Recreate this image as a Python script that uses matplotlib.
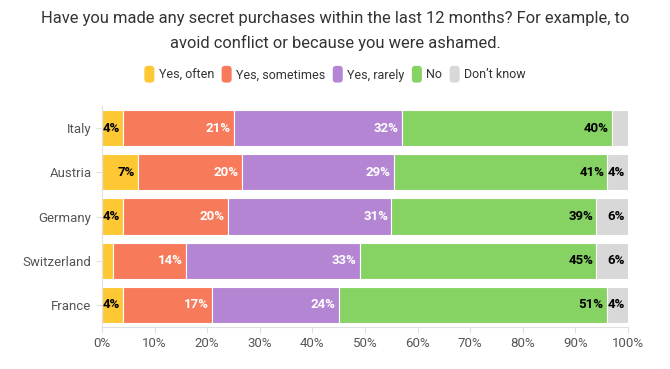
import matplotlib
matplotlib.use('Agg')
import matplotlib.pyplot as plt
from matplotlib.patches import FancyBboxPatch, Patch
from matplotlib.legend_handler import HandlerBase

countries = ['Italy', 'Austria', 'Germany', 'Switzerland', 'France']
categories = ['Yes, often', 'Yes, sometimes', 'Yes, rarely', 'No', 'Don’t know']
colors = ['#FDC833', '#F77A5B', '#B385D3', '#86D263', '#D8D8D8']
label_colors = ['black', 'white', 'white', 'black', 'black']

# share per country, in the order of the categories
values = {
    'Italy':       [4.0, 21.0, 32.0, 40.0, 3.0],
    'Austria':     [6.8, 19.8, 28.9, 40.6, 4.0],
    'Germany':     [4.0, 20.0, 31.0, 39.0, 6.0],
    'Switzerland': [2.0, 14.0, 33.0, 45.0, 6.0],
    'France':      [4.0, 17.0, 24.0, 51.0, 4.0],
}

plt.rcParams['font.family'] = ['Roboto', 'DejaVu Sans']

fig = plt.figure(figsize=(6.7, 3.69), dpi=100)
ax = fig.add_axes([102 / 670, 1 - 327 / 369, 526 / 670, 221 / 369])

for i, c in enumerate(countries):
    left = 0
    for j, v in enumerate(values[c]):
        ax.barh(i, v, left=left, height=0.82, color=colors[j],
                edgecolor='white', linewidth=0.8)
        if v >= 3.5:
            ax.text(left + v - 0.6, i, f'{round(v)}%', ha='right', va='center',
                    fontsize=9.5, fontweight='bold', color=label_colors[j])
        left += v

ax.set_xlim(0, 100)
ax.set_ylim(len(countries) - 0.5, -0.5)
ax.set_yticks(range(len(countries)))
ax.set_yticklabels(countries)
ax.set_xticks(range(0, 101, 10))
ax.set_xticklabels([f'{t}%' for t in range(0, 101, 10)])
ax.tick_params(axis='both', colors='#e0e0e0', labelcolor='#555555', labelsize=9.5, length=4)
for s in ['top', 'right']:
    ax.spines[s].set_visible(False)
for s in ['left', 'bottom']:
    ax.spines[s].set_color('#e0e0e0')

# title, two lines
fig.text(0.5, 1 - 18 / 369, 'Have you made any secret purchases within the last 12 months? For example, to',
         ha='center', va='center', fontsize=11.9, color='#333333')
fig.text(0.5, 1 - 43 / 369, 'avoid conflict or because you were ashamed.',
         ha='center', va='center', fontsize=11.9, color='#333333')


class RoundHandler(HandlerBase):
    def create_artists(self, legend, orig, xd, yd, w, h, fontsize, trans):
        p = FancyBboxPatch((-xd, -yd - 2), w, h + 4,
                           boxstyle='round,pad=0,rounding_size=2.5',
                           facecolor=orig.get_facecolor(), edgecolor='none',
                           transform=trans)
        return [p]


handles = [Patch(facecolor=col) for col in colors]
fig.legend(handles, categories, loc='center', bbox_to_anchor=(0.5, 1 - 75 / 369),
           ncol=5, frameon=False, fontsize=9, handlelength=0.8, handleheight=1.0,
           handletextpad=0.35, columnspacing=0.6,
           handler_map={Patch: RoundHandler()}, labelcolor='#333333')

fig.savefig('out.png', dpi=100)
